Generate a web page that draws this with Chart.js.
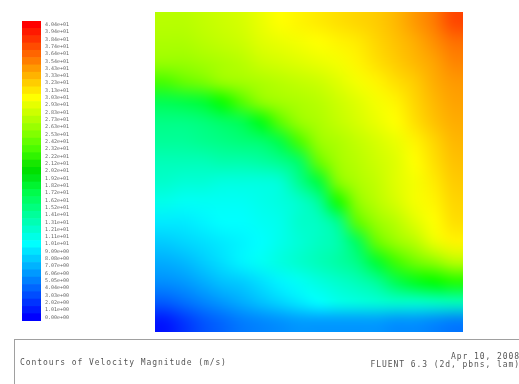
<!DOCTYPE html>
<html>
<head>
<meta charset="utf-8">
<script src="https://cdn.jsdelivr.net/npm/chart.js@4"></script>
<style>
  html, body { margin: 0; padding: 0; background: #fff; width: 519px; height: 384px; overflow: hidden; }
  canvas { position: absolute; left: 0; top: 0; }
  #footer {
    position: absolute; left: 14px; top: 339px; width: 510px; height: 50px;
    border-top: 1px solid #a0a0a0; border-left: 1px solid #a0a0a0;
    font-family: "DejaVu Sans Mono", monospace; font-size: 8px; line-height: 8px;
    letter-spacing: 0.93px; color: #555;
  }
  #title { position: absolute; left: 5px; top: 19px; white-space: nowrap; }
  #stamp { position: absolute; right: 5px; top: 13px; text-align: right; white-space: nowrap; }
</style>
</head>
<body>
<canvas id="fieldChart" width="519" height="340"></canvas>
<canvas id="barChart" width="80" height="340"></canvas>
<div id="footer">
  <div id="title">Contours of Velocity Magnitude (m/s)</div>
  <div id="stamp">Apr 10, 2008<br>FLUENT 6.3 (2d, pbns, lam)</div>
</div>
<script>
// colour bar levels, top to bottom (m/s)
const levelLabels = [
  "4.04e+01", "3.94e+01", "3.84e+01", "3.74e+01", "3.64e+01", "3.54e+01", "3.43e+01",
  "3.33e+01", "3.23e+01", "3.13e+01", "3.03e+01", "2.93e+01", "2.83e+01", "2.73e+01",
  "2.63e+01", "2.53e+01", "2.42e+01", "2.32e+01", "2.22e+01", "2.12e+01", "2.02e+01",
  "1.92e+01", "1.82e+01", "1.72e+01", "1.62e+01", "1.52e+01", "1.41e+01", "1.31e+01",
  "1.21e+01", "1.11e+01", "1.01e+01", "9.09e+00", "8.08e+00", "7.07e+00", "6.06e+00",
  "5.05e+00", "4.04e+00", "3.03e+00", "2.02e+00", "1.01e+00", "0.00e+00"
];
const levelMax = 40.4;

// velocity magnitude / max, 16 x 16 cell centres, top row first, left column first
const speedRatio = [
  [0.68, 0.68, 0.69, 0.70, 0.71, 0.73, 0.75, 0.76, 0.77, 0.78, 0.79, 0.80, 0.82, 0.85, 0.88, 0.93],
  [0.67, 0.67, 0.68, 0.69, 0.70, 0.72, 0.73, 0.74, 0.75, 0.76, 0.77, 0.79, 0.81, 0.83, 0.86, 0.89],
  [0.65, 0.65, 0.66, 0.67, 0.68, 0.70, 0.71, 0.72, 0.73, 0.74, 0.76, 0.78, 0.80, 0.82, 0.84, 0.87],
  [0.57, 0.60, 0.62, 0.65, 0.66, 0.67, 0.68, 0.69, 0.70, 0.72, 0.74, 0.76, 0.78, 0.80, 0.83, 0.85],
  [0.42, 0.43, 0.45, 0.51, 0.58, 0.64, 0.66, 0.67, 0.68, 0.70, 0.72, 0.74, 0.76, 0.79, 0.82, 0.84],
  [0.37, 0.37, 0.38, 0.40, 0.42, 0.48, 0.59, 0.65, 0.67, 0.69, 0.71, 0.73, 0.75, 0.78, 0.81, 0.83],
  [0.35, 0.35, 0.36, 0.37, 0.38, 0.39, 0.43, 0.57, 0.65, 0.67, 0.69, 0.71, 0.73, 0.76, 0.79, 0.82],
  [0.32, 0.32, 0.32, 0.33, 0.33, 0.34, 0.36, 0.40, 0.60, 0.66, 0.68, 0.70, 0.72, 0.75, 0.78, 0.81],
  [0.30, 0.29, 0.29, 0.28, 0.28, 0.28, 0.29, 0.36, 0.44, 0.63, 0.67, 0.69, 0.72, 0.74, 0.77, 0.80],
  [0.27, 0.26, 0.26, 0.26, 0.26, 0.27, 0.28, 0.30, 0.35, 0.52, 0.64, 0.68, 0.71, 0.74, 0.76, 0.79],
  [0.23, 0.23, 0.24, 0.25, 0.25, 0.26, 0.27, 0.30, 0.31, 0.36, 0.59, 0.65, 0.68, 0.72, 0.75, 0.78],
  [0.20, 0.21, 0.22, 0.23, 0.24, 0.25, 0.27, 0.29, 0.31, 0.33, 0.41, 0.60, 0.65, 0.68, 0.73, 0.76],
  [0.17, 0.18, 0.20, 0.22, 0.24, 0.26, 0.28, 0.30, 0.32, 0.34, 0.37, 0.45, 0.56, 0.61, 0.64, 0.68],
  [0.14, 0.15, 0.17, 0.19, 0.20, 0.22, 0.24, 0.26, 0.28, 0.30, 0.32, 0.35, 0.42, 0.47, 0.50, 0.53],
  [0.09, 0.11, 0.13, 0.15, 0.17, 0.19, 0.21, 0.23, 0.25, 0.27, 0.28, 0.29, 0.30, 0.30, 0.31, 0.32],
  [0.02, 0.05, 0.08, 0.10, 0.12, 0.13, 0.14, 0.15, 0.15, 0.15, 0.15, 0.15, 0.14, 0.14, 0.13, 0.12]
];

// fluent style rainbow: blue -> cyan -> green -> yellow -> red
function rainbowRGB(v, greenShade = 0) {
  const c = Math.max(0, Math.min(1, v));
  const t = c * 4;
  const seg = Math.min(3, Math.floor(t));
  const f = t - seg;
  let rgb;
  if (seg === 0) rgb = [0, 255 * f, 255];
  else if (seg === 1) rgb = [0, 255, 255 * (1 - f)];
  else if (seg === 2) rgb = [255 * f, 255, 0];
  else rgb = [255, 255 * (1 - f), 0];
  const shade = 1 - greenShade * Math.exp(-Math.pow((c - 0.5) / 0.05, 2));
  return rgb.map((x) => Math.round(x * shade));
}

function rainbow(v, greenShade = 0) {
  const [r, g, b] = rainbowRGB(v, greenShade);
  return `rgb(${r},${g},${b})`;
}

const fieldPlugin = {
  id: "speedField",
  beforeDatasetsDraw(chart) {
    const rows = speedRatio.length;
    const cols = speedRatio[0].length;
    const off = document.createElement("canvas");
    off.width = cols;
    off.height = rows;
    const octx = off.getContext("2d");
    const img = octx.createImageData(cols, rows);
    speedRatio.forEach((row, j) => {
      row.forEach((v, i) => {
        const [r, g, b] = rainbowRGB(v);
        const k = (j * cols + i) * 4;
        img.data[k] = r;
        img.data[k + 1] = g;
        img.data[k + 2] = b;
        img.data[k + 3] = 255;
      });
    });
    octx.putImageData(img, 0, 0);

    const xs = chart.scales.x;
    const ys = chart.scales.y;
    const left = xs.getPixelForValue(0);
    const right = xs.getPixelForValue(1);
    const top = ys.getPixelForValue(1);
    const bottom = ys.getPixelForValue(0);
    const ctx = chart.ctx;
    ctx.save();
    ctx.imageSmoothingEnabled = true;
    ctx.imageSmoothingQuality = "high";
    ctx.drawImage(off, left, top, right - left, bottom - top);
    ctx.restore();
  }
};

new Chart(document.getElementById("fieldChart"), {
  type: "scatter",
  data: { datasets: [] },
  options: {
    responsive: false,
    animation: false,
    layout: { padding: { left: 155, right: 56, top: 12, bottom: 8 } },
    plugins: { legend: { display: false }, tooltip: { enabled: false } },
    scales: {
      x: { type: "linear", min: 0, max: 1, display: false },
      y: { type: "linear", min: 0, max: 1, display: false }
    }
  },
  plugins: [fieldPlugin]
});

new Chart(document.getElementById("barChart"), {
  type: "bar",
  data: {
    labels: levelLabels,
    datasets: [{
      data: levelLabels.map(() => 1),
      backgroundColor: levelLabels.map((lab) => rainbow(parseFloat(lab) / levelMax, 0.12)),
      barPercentage: 1,
      categoryPercentage: 1,
      borderWidth: 0
    }]
  },
  options: {
    indexAxis: "y",
    responsive: false,
    animation: false,
    layout: { padding: { left: 22, right: 0, top: 21, bottom: 19 } },
    plugins: { legend: { display: false }, tooltip: { enabled: false } },
    scales: {
      x: { display: false, min: 0, max: 1 },
      y: {
        position: "right",
        grid: { display: false, drawTicks: false, tickLength: 0 },
        border: { display: false },
        ticks: {
          autoSkip: false,
          padding: 4,
          color: "#666",
          font: { family: "DejaVu Sans Mono", size: 5 }
        },
        afterFit(scale) {
          scale.width = 39;
        }
      }
    }
  }
});
</script>
</body>
</html>
